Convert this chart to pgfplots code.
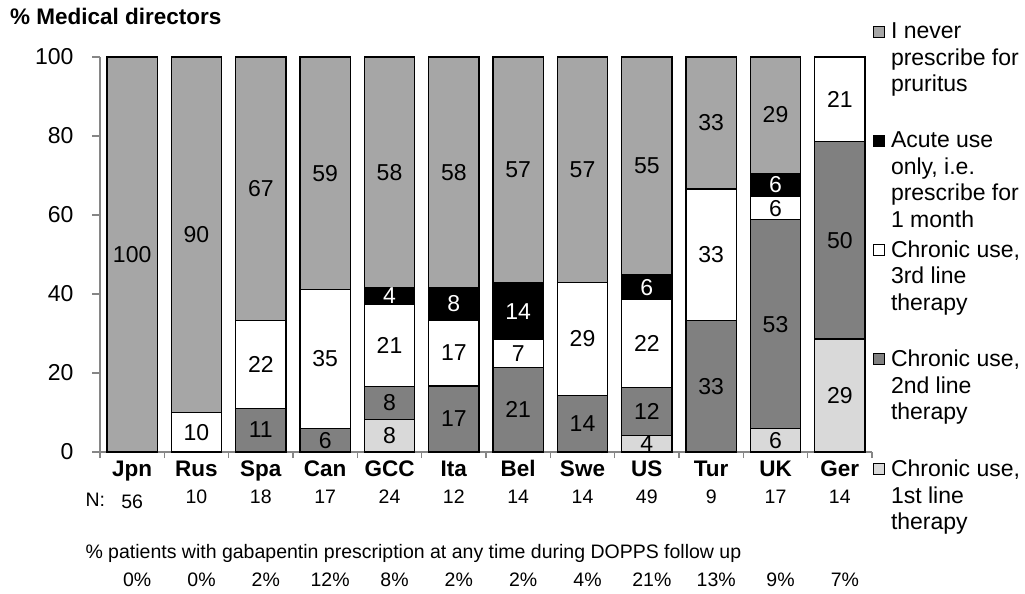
\documentclass[border=0pt]{standalone}
\usepackage{fontspec}
\setmainfont{Liberation Sans}
\usepackage{pgfplots}
\usepackage{pgfplotstable}
\pgfplotsset{compat=1.18}

\definecolor{cnever}{HTML}{A6A6A6}
\definecolor{csecond}{HTML}{808080}
\definecolor{cfirst}{HTML}{D9D9D9}
\definecolor{axgray}{HTML}{868686}

\pgfplotstableread{
x first second third acute never
0 0 0 0 0 100
1 0 0 10 0 90
2 0 11.1 22.2 0 66.7
3 0 5.9 35.3 0 58.8
4 8.3 8.3 20.8 4.2 58.4
5 0 16.7 16.7 8.3 58.3
6 0 21.4 7.1 14.3 57.2
7 0 14.3 28.6 0 57.1
8 4.1 12.2 22.4 6.1 55.2
9 0 33.3 33.3 0 33.4
10 5.9 52.9 5.9 5.9 29.4
11 28.6 50 21.4 0 0
}\data

\newcommand{\fsz}[2]{\fontsize{#1}{#2}\selectfont}

\begin{document}
\begin{tikzpicture}
\useasboundingbox (0,0) rectangle (1025bp,594bp);
\node[anchor=base west, font=\bfseries\fsz{22.5bp}{22.5bp}, inner sep=0] at (10bp,569bp) {\% Medical directors};
\begin{axis}[
  at={(100bp,142bp)}, anchor=south west,
  scale only axis, width=772bp, height=395bp,
  ybar stacked, bar width=0.78,
  xmin=-0.5, xmax=11.5, ymin=0, ymax=100,
  clip=false,
  axis x line*=bottom, axis y line*=left,
  axis line style={axgray, line width=1.2bp},
  tick style={axgray, line width=1.2bp},
  tick align=outside,
  xtick={0,...,11},
  xticklabels={Jpn,Rus,Spa,Can,GCC,Ita,Bel,Swe,US,Tur,UK,Ger},
  major x tick style={draw=none},
  minor xtick={-0.5,0.5,...,11.5},
  minor tick length=6bp,
  major tick length=8bp,
  ytick={0,20,...,100},
  /pgf/number format/assume math mode=true,
  yticklabel style={font=\fsz{23bp}{23bp}, xshift=-15bp},
  xticklabel style={font=\bfseries\fsz{22.5bp}{22.5bp}, yshift=3bp},
  point meta=explicit,
  nodes near coords={\pgfmathfloatifflags{\pgfplotspointmeta}{0}{}{\pgfmathprintnumber[fixed,precision=0]{\pgfplotspointmeta}}},
  every node near coord/.append style={font=\fsz{23bp}{23bp}, text=black},
  legend image code/.code={\draw[#1, line width=1bp] (0bp,-16.5bp) rectangle (11bp,-5.5bp);},
  reverse legend,
  legend style={at={(1.0013,1.0911)}, anchor=north west, draw=none, fill=none,
    inner sep=0pt, outer sep=0pt, row sep=8bp, column sep=4bp,
    font=\fsz{23bp}{26.5bp},
    cells={anchor=north west, align=left}},
]
\addplot[fill=cfirst, draw=black, line width=1.2bp] table[x=x, y=first, meta=first] {\data};
\addlegendentry{Chronic use,\\1st line\\therapy\\\mbox{}}
\addplot[fill=csecond, draw=black, line width=1.2bp] table[x=x, y=second, meta=second] {\data};
\addlegendentry{Chronic use,\\2nd line\\therapy\\\mbox{}}
\addplot[fill=white, draw=black, line width=1.2bp] table[x=x, y=third, meta=third] {\data};
\addlegendentry{Chronic use,\\3rd line\\therapy\\\mbox{}}
\addplot[fill=black, draw=black, line width=1.2bp, every node near coord/.append style={text=white}] table[x=x, y=acute, meta=acute] {\data};
\addlegendentry{Acute use\\only, i.e.\\prescribe for\\1 month}
\addplot[fill=cnever, draw=black, line width=1.2bp] table[x=x, y=never, meta=never] {\data};
\addlegendentry{I never\\prescribe for\\pruritus\\\mbox{}}

% N row
\node[font=\fsz{19.5bp}{19.5bp}, anchor=west] at (axis cs:-0.78,0) [yshift=-48bp] {N:};
\node[font=\fsz{19.5bp}{19.5bp}] at (axis cs:0,0) [yshift=-50bp] {56};
\node[font=\fsz{19.5bp}{19.5bp}] at (axis cs:1,0) [yshift=-45bp] {10};
\node[font=\fsz{19.5bp}{19.5bp}] at (axis cs:2,0) [yshift=-45bp] {18};
\node[font=\fsz{19.5bp}{19.5bp}] at (axis cs:3,0) [yshift=-45bp] {17};
\node[font=\fsz{19.5bp}{19.5bp}] at (axis cs:4,0) [yshift=-45bp] {24};
\node[font=\fsz{19.5bp}{19.5bp}] at (axis cs:5,0) [yshift=-45bp] {12};
\node[font=\fsz{19.5bp}{19.5bp}] at (axis cs:6,0) [yshift=-45bp] {14};
\node[font=\fsz{19.5bp}{19.5bp}] at (axis cs:7,0) [yshift=-45bp] {14};
\node[font=\fsz{19.5bp}{19.5bp}] at (axis cs:8,0) [yshift=-45bp] {49};
\node[font=\fsz{19.5bp}{19.5bp}] at (axis cs:9,0) [yshift=-45bp] {9};
\node[font=\fsz{19.5bp}{19.5bp}] at (axis cs:10,0) [yshift=-45bp] {17};
\node[font=\fsz{19.5bp}{19.5bp}] at (axis cs:11,0) [yshift=-45bp] {14};
% percentage line
\node[font=\fsz{19.5bp}{19.5bp}, anchor=west] at (axis cs:-0.78,0) [yshift=-101bp] {\% patients with gabapentin prescription at any time during DOPPS follow up};
\node[font=\fsz{19.5bp}{19.5bp}] at (axis cs:0,0) [yshift=-128bp, xshift=5bp] {0\%};
\node[font=\fsz{19.5bp}{19.5bp}] at (axis cs:1,0) [yshift=-128bp, xshift=5bp] {0\%};
\node[font=\fsz{19.5bp}{19.5bp}] at (axis cs:2,0) [yshift=-128bp, xshift=5bp] {2\%};
\node[font=\fsz{19.5bp}{19.5bp}] at (axis cs:3,0) [yshift=-128bp, xshift=5bp] {12\%};
\node[font=\fsz{19.5bp}{19.5bp}] at (axis cs:4,0) [yshift=-128bp, xshift=5bp] {8\%};
\node[font=\fsz{19.5bp}{19.5bp}] at (axis cs:5,0) [yshift=-128bp, xshift=5bp] {2\%};
\node[font=\fsz{19.5bp}{19.5bp}] at (axis cs:6,0) [yshift=-128bp, xshift=5bp] {2\%};
\node[font=\fsz{19.5bp}{19.5bp}] at (axis cs:7,0) [yshift=-128bp, xshift=5bp] {4\%};
\node[font=\fsz{19.5bp}{19.5bp}] at (axis cs:8,0) [yshift=-128bp, xshift=5bp] {21\%};
\node[font=\fsz{19.5bp}{19.5bp}] at (axis cs:9,0) [yshift=-128bp, xshift=5bp] {13\%};
\node[font=\fsz{19.5bp}{19.5bp}] at (axis cs:10,0) [yshift=-128bp, xshift=5bp] {9\%};
\node[font=\fsz{19.5bp}{19.5bp}] at (axis cs:11,0) [yshift=-128bp, xshift=5bp] {7\%};
\end{axis}
\end{tikzpicture}
\end{document}
